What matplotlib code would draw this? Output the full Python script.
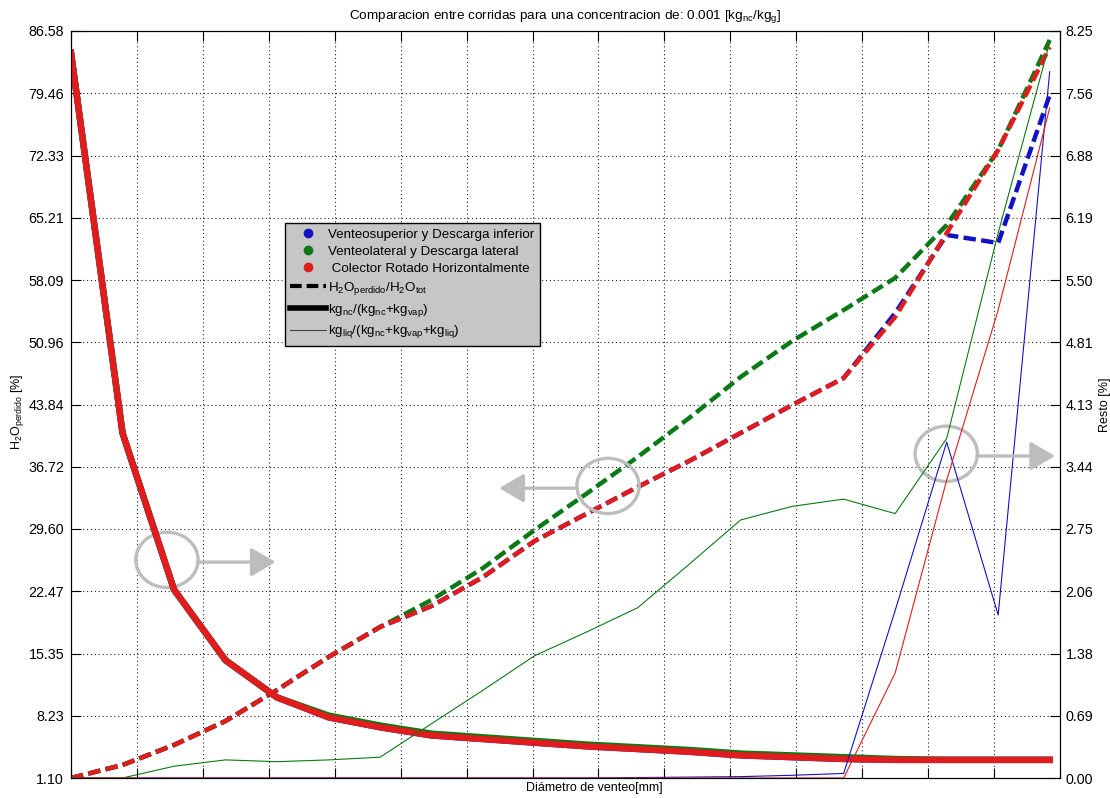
import numpy as np
import matplotlib.pyplot as plt
from matplotlib.lines import Line2D
from matplotlib.patches import Ellipse

plt.rcParams['font.family'] = ['Liberation Sans', 'DejaVu Sans']
plt.rcParams['mathtext.default'] = 'regular'

# H2O_perdido / H2O_tot [%]  -> left axis (dashed)
perd_sup = [1.10, 2.59, 4.88, 7.62, 11.17, 14.95, 18.38, 20.78, 24.10, 28.22,
            31.31, 34.40, 37.37, 40.58, 43.78, 46.87, 54.30, 63.24, 62.32, 79.26]
perd_lat = [1.10, 2.59, 4.88, 7.62, 11.17, 14.95, 18.38, 21.47, 25.13, 29.48,
            33.60, 37.83, 42.29, 46.99, 51.10, 54.65, 58.32, 64.38, 72.96, 85.55]
perd_rot = [1.10, 2.59, 4.88, 7.62, 11.17, 14.95, 18.38, 20.78, 24.10, 28.22,
            31.31, 34.40, 37.37, 40.58, 43.78, 46.87, 53.85, 63.46, 72.96, 84.75]

# kg_nc/(kg_nc+kg_vap) [%] -> right axis (thick)
nc_sup = [8.01, 3.81, 2.08, 1.30, 0.89, 0.67, 0.56, 0.47, 0.43, 0.39,
          0.35, 0.32, 0.29, 0.25, 0.23, 0.21, 0.20, 0.20, 0.20, 0.20]
nc_lat = [8.01, 3.81, 2.08, 1.30, 0.89, 0.69, 0.58, 0.49, 0.45, 0.41,
          0.37, 0.34, 0.31, 0.27, 0.25, 0.23, 0.21, 0.20, 0.20, 0.20]
nc_rot = [8.01, 3.81, 2.08, 1.30, 0.89, 0.67, 0.56, 0.47, 0.43, 0.39,
          0.35, 0.32, 0.29, 0.25, 0.23, 0.21, 0.20, 0.20, 0.20, 0.20]

# kg_liq/(kg_nc+kg_vap+kg_liq) [%] -> right axis (thin)
liq_sup = [0, 0, 0, 0, 0, 0, 0, 0, 0, 0,
           0, 0.005, 0.01, 0.015, 0.03, 0.05, 1.85, 3.71, 1.80, 7.80]
liq_lat = [0, 0, 0.13, 0.20, 0.18, 0.20, 0.23, 0.60, 0.97, 1.35,
           1.61, 1.88, 2.36, 2.85, 3.00, 3.08, 2.92, 3.75, 6.02, 8.12]
liq_rot = [0, 0, 0, 0, 0, 0, 0, 0, 0, 0,
           0, 0, 0, 0, 0, 0, 1.16, 3.29, 5.17, 7.40]

left_labels = ['1.10', '8.23', '15.35', '22.47', '29.60', '36.72', '43.84',
               '50.96', '58.09', '65.21', '72.33', '79.46', '86.58']
right_labels = ['0.00', '0.69', '1.38', '2.06', '2.75', '3.44', '4.13',
                '4.81', '5.50', '6.19', '6.88', '7.56', '8.25']

runs = ['Venteosuperior y Descarga inferior', 'Venteolateral y Descarga lateral',
        ' Colector Rotado Horizontalmente']
colors = ['#1212c4', '#0b7a16', '#e01c1c']

x = np.arange(len(perd_rot))
xmax = 19.2

fig = plt.figure(figsize=(11.1, 7.98), dpi=100)
ax = fig.add_axes([71 / 1110, 20 / 798, 989 / 1110, 747 / 798])
ax2 = ax.twinx()

for perd, col in zip([perd_sup, perd_lat, perd_rot], colors):
    ax.plot(x, perd, color=col, lw=3.2, linestyle=(0, (2.8, 1.2)),
            dash_capstyle='butt')
for nc, col in zip([nc_sup, nc_lat, nc_rot], colors):
    ax2.plot(x, nc, color=col, lw=4.6, solid_joinstyle='round')
for liq, col in zip([liq_sup, liq_lat, liq_rot], colors):
    ax2.plot(x, liq, color=col, lw=0.8)

ax.set_xlim(0, xmax)
ax.set_xticks(np.linspace(0, xmax, 16))
ax.set_xticklabels([])
ax.set_ylim(1.10, 86.58)
ax.set_yticks(np.linspace(1.10, 86.58, 13))
ax.set_yticklabels(left_labels)
ax2.set_ylim(0, 8.25)
ax2.set_yticks(np.linspace(0, 8.25, 13))
ax2.set_yticklabels(right_labels)

ax.grid(True, linestyle=(0, (1, 2.5)), color='#222222', linewidth=0.8)
ax.tick_params(axis='x', direction='in', top=True, length=7)
ax.tick_params(axis='y', direction='in', length=7, labelsize=10.3, pad=5)
ax2.tick_params(axis='y', direction='in', length=7, labelsize=10.3, pad=4)

ax.set_title('Comparacion entre corridas para una concentracion de: 0.001 [kg$_{nc}$/kg$_{g}$]',
             fontsize=9.7, pad=9)
ax.set_xlabel('Diámetro de venteo[mm]', fontsize=9)
ax.xaxis.set_label_coords(0.529, -0.006)
ax.set_ylabel('H$_2$O$_{perdido}$ [%]', fontsize=9)
ax.yaxis.set_label_coords(-0.045, 0.49)
ax2.set_ylabel('Resto [%]', fontsize=9)
ax2.yaxis.set_label_coords(1.039, 0.5)

# gray circles + arrows telling which axis each line family uses
marks = [((0.097, 0.292), (0.128, 0.289), (0.207, 0.289)),
         ((0.543, 0.391), (0.512, 0.388), (0.433, 0.388)),
         ((0.885, 0.434), (0.916, 0.431), (0.995, 0.431))]
for centre, start, end in marks:
    ax2.add_patch(Ellipse(centre, 0.063, 0.074, transform=ax2.transAxes,
                          fill=False, edgecolor='#bdbdbd', lw=2.4, clip_on=False))
    ax2.annotate('', xy=end, xytext=start, xycoords='axes fraction',
                 arrowprops=dict(arrowstyle='-|>,head_length=0.6,head_width=0.35',
                                 color='#bdbdbd', lw=2.4, mutation_scale=25,
                                 shrinkA=0, shrinkB=0))

handles = [Line2D([], [], color=c, marker='o', markersize=6, linestyle='none')
           for c in colors]
handles += [Line2D([], [], color='k', lw=3, linestyle=(0, (2.8, 1.2))),
            Line2D([], [], color='k', lw=4),
            Line2D([], [], color='#444444', lw=0.8)]
labels = runs + ['H$_2$O$_{perdido}$/H$_2$O$_{tot}$',
                 'kg$_{nc}$/(kg$_{nc}$+kg$_{vap}$)',
                 'kg$_{liq}$/(kg$_{nc}$+kg$_{vap}$+kg$_{liq}$)']
leg = fig.legend(handles, labels, loc='upper left',
                 bbox_to_anchor=(285 / 1110, 1 - 223 / 798), borderaxespad=0,
                 fontsize=9.6, handlelength=2.7, handletextpad=0.15,
                 labelspacing=0.36, borderpad=0.4, fancybox=False,
                 facecolor='#c6c6c6', edgecolor='black', framealpha=1)
leg.get_frame().set_linewidth(1.0)

fig.savefig('out.png', dpi=100)
